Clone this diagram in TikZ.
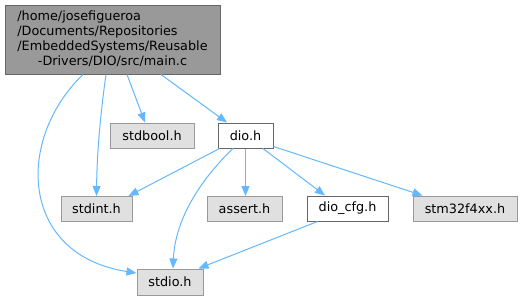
\documentclass[tikz,border=0pt]{standalone}
\usepackage{fontspec}
\setmainfont{DejaVu Sans}
\usetikzlibrary{arrows.meta}
\definecolor{edgeblue}{HTML}{63B8FF}
\definecolor{rootfill}{HTML}{999999}
\definecolor{rootdraw}{HTML}{666666}
\definecolor{sysfill}{HTML}{E0E0E0}
\definecolor{sysdraw}{HTML}{999999}
\tikzset{
  file/.style={draw, line width=1pt, inner sep=0pt, minimum height=25pt,
    font=\fontsize{12.8}{15}\selectfont},
  rootfile/.style={file, fill=rootfill, draw=rootdraw},
  sysfile/.style={file, fill=sysfill, draw=sysdraw},
  localfile/.style={file, fill=white, draw=rootdraw},
  dep/.style={draw=edgeblue, line width=1pt,
    -{Triangle[length=10pt,width=8pt,fill=edgeblue]}},
}
\begin{document}
\begin{tikzpicture}[x=1pt,y=-1pt]
\useasboundingbox (0,0) rectangle (522,300);
% include sources
\node[rootfile, minimum width=215pt, minimum height=69pt] (main) at (112.5,39.5)
  {\begin{tabular}{@{}l@{}}/home/josefigueroa\\/Documents/Repositories\\/EmbeddedSystems/Reusable\\\multicolumn{1}{@{}c@{}}{-Drivers/DIO/src/main.c}\end{tabular}};
\node[sysfile, minimum width=84pt] (stdbool) at (152,135.5) {stdbool.h};
\node[localfile, minimum width=55pt] (dio) at (245.5,135.5) {dio.h};
% second level
\node[sysfile, minimum width=71pt] (stdint) at (96.5,209) {stdint.h};
\node[sysfile, minimum width=75pt] (assert) at (244.5,209) {assert.h};
\node[localfile, minimum width=81pt] (cfg) at (347.5,208.5) {dio\_cfg.h};
\node[sysfile, minimum width=104pt] (stm) at (465,208.5) {stm32f4xx.h};
\node[sysfile, minimum width=66pt, minimum height=26pt] (stdio) at (170,282) {stdio.h};
% dependencies of main.c
\draw[dep] ([xshift=-29.5pt]main.south) .. controls (15,140) and (20,255) .. ([yshift=9pt]stdio.west);
\draw[dep] ([xshift=-6.5pt]main.south) .. controls (101,110) and (97,150) .. (stdint.north);
\draw[dep] ([xshift=14.5pt]main.south) -- ([xshift=-7pt]stdbool.north);
\draw[dep] ([xshift=48.5pt]main.south) -- ([xshift=-18.5pt]dio.north);
% dependencies of dio.h
\draw[dep] ([xshift=2pt]dio.south west) -- ([xshift=-4pt]stdint.north east);
\draw[dep] ([xshift=-12.5pt]dio.south) .. controls (200,180) and (175,220) .. ([xshift=3pt]stdio.north);
\draw[dep] (dio.south) -- (dio.south |- assert.north);
\draw[dep] ([xshift=17.5pt]dio.south) -- ([xshift=-22.5pt]cfg.north);
\draw[dep] ([yshift=2pt]dio.south east) -- ([xshift=10pt]stm.north west);
% dependencies of dio_cfg.h
\draw[dep] ([xshift=11pt]cfg.south west) -- ([xshift=-5pt]stdio.north east);
\end{tikzpicture}
\end{document}
